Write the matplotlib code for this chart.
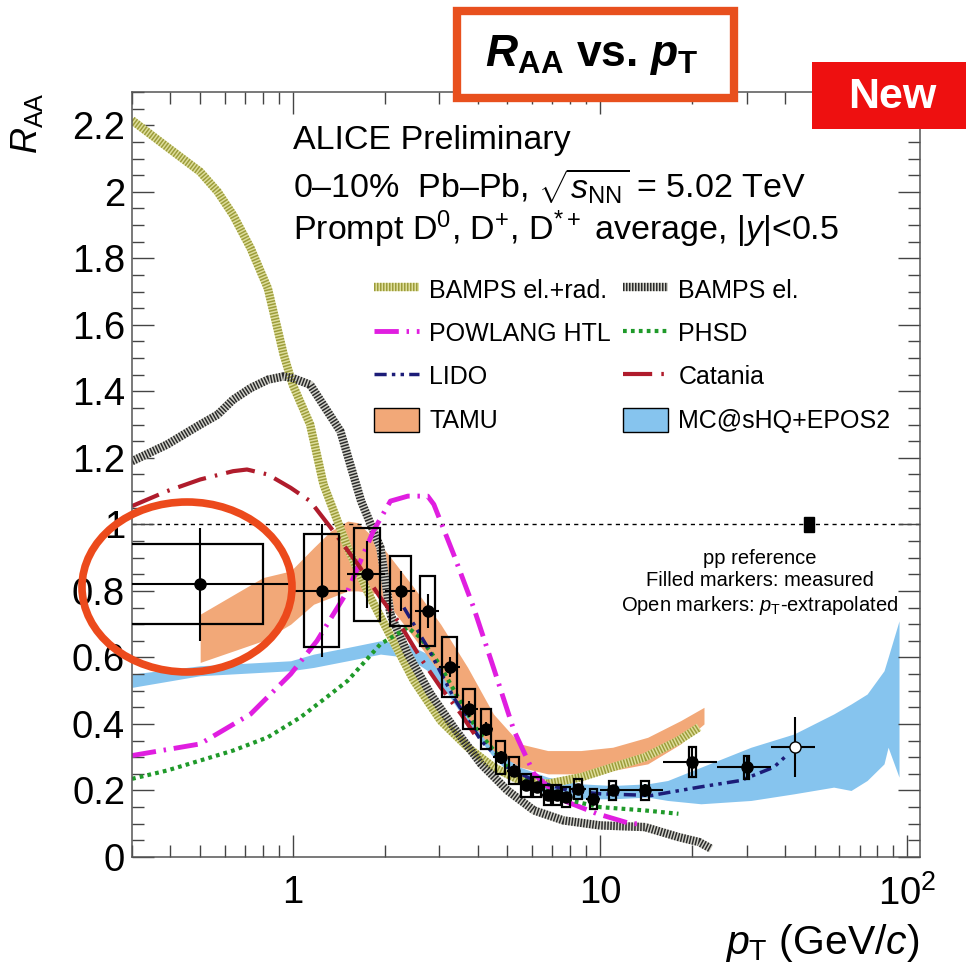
import numpy as np
import matplotlib
matplotlib.use('Agg')
import matplotlib.pyplot as plt
from matplotlib.patches import Rectangle, Ellipse, Patch
from matplotlib.lines import Line2D
import matplotlib.ticker as mticker

plt.rcParams['font.family'] = ['Liberation Sans', 'DejaVu Sans']
plt.rcParams['mathtext.fontset'] = 'custom'
plt.rcParams['mathtext.rm'] = 'Liberation Sans'
plt.rcParams['mathtext.it'] = 'Liberation Sans:italic'
plt.rcParams['mathtext.bf'] = 'Liberation Sans:bold'
plt.rcParams['mathtext.bfit'] = 'Liberation Sans:bold:italic'
plt.rcParams['mathtext.sf'] = 'Liberation Sans'

# ---------------- data ----------------
pt_lo = [0, 1, 1.5, 2, 2.5, 3, 3.5, 4, 4.5, 5, 5.5, 6, 6.5, 7, 7.5, 8, 9, 10, 12, 16, 24]
pt_hi = [1, 1.5, 2, 2.5, 3, 3.5, 4, 4.5, 5, 5.5, 6, 6.5, 7, 7.5, 8, 9, 10, 12, 16, 24, 36]
pt_c = [0.5, 1.25, 1.75, 2.25, 2.75, 3.25, 3.75, 4.25, 4.75, 5.25, 5.75, 6.25, 6.75, 7.25, 7.75, 8.5, 9.5, 11, 14, 20, 30]
raa = [0.82, 0.80, 0.85, 0.80, 0.74, 0.57, 0.445, 0.385, 0.30, 0.26, 0.215, 0.21, 0.185, 0.185, 0.18, 0.205, 0.175, 0.20, 0.20, 0.285, 0.27]
raa_stat = [0.17, 0.20, 0.10, 0.06, 0.05, 0.03, 0.025, 0.02, 0.02, 0.02, 0.015, 0.015, 0.015, 0.015, 0.015, 0.015, 0.015, 0.015, 0.02, 0.045, 0.035]
raa_syst = [0.12, 0.17, 0.14, 0.105, 0.105, 0.09, 0.06, 0.06, 0.05, 0.04, 0.035, 0.03, 0.03, 0.03, 0.03, 0.03, 0.03, 0.03, 0.03, 0.045, 0.035]
syst_hw = [0.3, 0.16, 0.17, 0.17, 0.16, 0.18, 0.16, 0.16, 0.16, 0.2, 0.2, 0.2, 0.2, 0.22, 0.22, 0.25, 0.25, 0.3, 0.4, 0.5, 0.6]

# extrapolated pp reference point (open marker)
ext_pt, ext_lo, ext_hi = [43], [36], [50]
ext_raa, ext_stat = [0.33], [0.09]

# pp normalisation uncertainty box
norm_pt, norm_hw, norm_unc = 48.0, 1.8, 0.022

# models
bamps_rad_x = [0.3, 0.39, 0.5, 0.57, 0.64, 0.73, 0.83, 0.935, 1.0, 1.14, 1.26, 1.51, 1.79, 2.04, 2.48, 3.03, 3.71, 4.5, 5.5, 6.76, 8.7, 11, 14, 18, 21]
bamps_rad_y = [2.215, 2.135, 2.06, 2.0, 1.93, 1.83, 1.71, 1.51, 1.42, 1.30, 1.12, 0.93, 0.78, 0.68, 0.53, 0.41, 0.33, 0.27, 0.23, 0.22, 0.24, 0.27, 0.30, 0.35, 0.39]

bamps_el_x = [0.3, 0.39, 0.5, 0.57, 0.64, 0.73, 0.83, 0.935, 1.0, 1.14, 1.43, 1.67, 1.93, 2.08, 2.37, 2.81, 3.34, 4.1, 5.0, 6.1, 7.6, 10, 14, 18, 21, 23]
bamps_el_y = [1.19, 1.24, 1.30, 1.33, 1.375, 1.41, 1.435, 1.445, 1.44, 1.42, 1.28, 1.07, 0.93, 0.73, 0.61, 0.49, 0.39, 0.28, 0.20, 0.14, 0.11, 0.095, 0.09, 0.06, 0.045, 0.025]

powlang_x = [0.3, 0.5, 0.73, 0.985, 1.2, 1.51, 1.83, 2.08, 2.37, 2.75, 2.88, 3.34, 3.88, 4.5, 5.25, 6.1, 7.6, 9.8, 12.6, 13.5]
powlang_y = [0.305, 0.34, 0.43, 0.55, 0.65, 0.80, 0.98, 1.07, 1.085, 1.085, 1.06, 0.91, 0.75, 0.57, 0.38, 0.25, 0.17, 0.13, 0.10, 0.10]

phsd_x = [0.3, 0.39, 0.5, 0.64, 0.83, 1.06, 1.33, 1.51, 1.93, 2.37, 2.6, 3.0, 3.5, 4.0, 5.0, 6.0, 7.0, 8.0, 10, 14, 18]
phsd_y = [0.235, 0.26, 0.29, 0.32, 0.36, 0.42, 0.49, 0.53, 0.64, 0.69, 0.66, 0.58, 0.47, 0.38, 0.27, 0.22, 0.19, 0.17, 0.15, 0.14, 0.13]

lido_x = [2.3, 2.75, 3.34, 4.1, 5.0, 6.1, 7.9, 10, 14.7, 21, 28.7, 36.8, 41]
lido_y = [0.75, 0.63, 0.48, 0.35, 0.27, 0.23, 0.20, 0.19, 0.185, 0.21, 0.23, 0.27, 0.31]

catania_x = [0.3, 0.39, 0.5, 0.64, 0.71, 0.83, 0.985, 1.14, 1.33, 1.63, 1.93, 2.2, 2.6, 3.03, 3.53, 3.9]
catania_y = [1.055, 1.10, 1.135, 1.16, 1.165, 1.15, 1.11, 1.07, 0.99, 0.88, 0.78, 0.71, 0.60, 0.51, 0.43, 0.37]

tamu_x = [0.5, 0.8, 0.985, 1.17, 1.33, 1.51, 1.63, 1.93, 2.48, 3.03, 3.71, 4.5, 5.5, 6.76, 8.66, 11, 14.3, 18.3, 21.8]
tamu_hi = [0.73, 0.84, 0.86, 0.93, 0.98, 1.01, 1.005, 0.94, 0.81, 0.70, 0.57, 0.43, 0.34, 0.32, 0.32, 0.33, 0.36, 0.41, 0.45]
tamu_lo = [0.585, 0.65, 0.70, 0.76, 0.78, 0.80, 0.80, 0.79, 0.66, 0.55, 0.42, 0.32, 0.27, 0.25, 0.25, 0.26, 0.28, 0.34, 0.40]

mc_x = [0.3, 0.5, 0.985, 1.17, 1.51, 1.93, 2.37, 2.75, 3.2, 3.71, 4.5, 5.5, 6.76, 8.66, 11, 14.3, 16.6, 21.3, 31, 42.8, 57.6, 65.6, 74, 84, 86.6, 94]
mc_hi = [0.55, 0.575, 0.59, 0.61, 0.63, 0.65, 0.64, 0.61, 0.55, 0.45, 0.34, 0.27, 0.24, 0.22, 0.215, 0.22, 0.23, 0.27, 0.33, 0.37, 0.43, 0.46, 0.49, 0.56, 0.60, 0.71]
mc_lo = [0.51, 0.545, 0.56, 0.57, 0.59, 0.61, 0.60, 0.56, 0.49, 0.40, 0.30, 0.22, 0.19, 0.175, 0.175, 0.18, 0.17, 0.16, 0.17, 0.19, 0.21, 0.20, 0.23, 0.28, 0.33, 0.24]

# ---------------- figure ----------------
W, H = 966, 969
fig = plt.figure(figsize=(W / 100, H / 100), dpi=100)
ax = fig.add_axes([132 / W, 1 - 857 / H, (920 - 132) / W, (857 - 92) / H])
ax.set_xscale('log')
ax.set_xlim(0.3, 110)
ax.set_ylim(0, 2.3)

# bands
tamu_col = '#f2a878'
mc_col = '#86c4ee'
ax.fill_between(mc_x, mc_lo, mc_hi, color=mc_col, lw=0, zorder=1)
ax.fill_between(tamu_x, tamu_lo, tamu_hi, color=tamu_col, lw=0, zorder=1.1)

# hatched BAMPS lines
ax.plot(bamps_rad_x, bamps_rad_y, color='#dede9c', lw=6, solid_capstyle='butt', zorder=2)
ax.plot(bamps_rad_x, bamps_rad_y, color='#9c9c3a', lw=6, dashes=(0.18, 0.18), dash_capstyle='butt', zorder=2.01)
ax.plot(bamps_el_x, bamps_el_y, color='#d0d0c8', lw=6, solid_capstyle='butt', zorder=2)
ax.plot(bamps_el_x, bamps_el_y, color='#2a2a2a', lw=6, dashes=(0.18, 0.18), dash_capstyle='butt', zorder=2.01)

ax.plot(powlang_x, powlang_y, color='#e01ee0', lw=3.5, dashes=(5, 1.6, 0.5, 1.6), zorder=2.1)
ax.plot(phsd_x, phsd_y, color='#1f9a2a', lw=3, dashes=(0.9, 1.0), zorder=2.1)
ax.plot(lido_x, lido_y, color='#1c1c78', lw=2.5, dashes=(3.5, 1.5, 1, 1.5, 1, 1.5), zorder=2.1)
ax.plot(catania_x, catania_y, color='#b01c2c', lw=3, dashes=(7, 2.2, 0.6, 2.2), zorder=2.1)

# reference line at 1
ax.axhline(1.0, color='black', lw=1, dashes=(3, 3), zorder=1.5)
ax.add_patch(Rectangle((norm_pt - norm_hw, 1 - norm_unc), 2 * norm_hw, 2 * norm_unc,
                       facecolor='black', edgecolor='black', zorder=3))

# data
for x, y, s, hw in zip(pt_c, raa, raa_syst, syst_hw):
    ax.add_patch(Rectangle((x - hw, y - s), 2 * hw, 2 * s, fill=False,
                           edgecolor='black', lw=1.6, zorder=3))
xerr = [np.array(pt_c) - np.array(pt_lo), np.array(pt_hi) - np.array(pt_c)]
ax.errorbar(pt_c, raa, yerr=raa_stat, xerr=xerr, fmt='o', color='black', ms=8,
            elinewidth=1.5, capsize=0, zorder=4)
ax.errorbar(ext_pt, ext_raa, yerr=ext_stat,
            xerr=[np.array(ext_pt) - np.array(ext_lo), np.array(ext_hi) - np.array(ext_pt)],
            fmt='o', color='black', mfc='white', mec='black', ms=8, elinewidth=1.5,
            capsize=0, zorder=4)

# axes styling
ax.set_xticks([1, 10, 100])
ax.set_xticklabels(['1', '10', r'$10^{2}$'])
ax.xaxis.set_minor_locator(mticker.LogLocator(base=10, subs=np.arange(2, 10)))
ax.xaxis.set_minor_formatter(mticker.NullFormatter())
ax.yaxis.set_major_locator(mticker.MultipleLocator(0.2))
ax.yaxis.set_minor_locator(mticker.MultipleLocator(0.05))
ax.yaxis.set_major_formatter(mticker.FuncFormatter(lambda v, p: '%g' % round(v, 2)))
ax.tick_params(which='both', direction='in', top=True, right=True, color='#444444', width=1.0)
ax.tick_params(which='major', length=16, labelsize=27.5)
ax.tick_params(which='minor', length=8.5)
ax.tick_params(axis='x', which='major', pad=13)
ax.tick_params(axis='y', which='major', pad=5)
for s in ax.spines.values():
    s.set_color('#555555')
    s.set_linewidth(1.1)

ax.set_ylabel(r'$R_{\rm AA}$', fontsize=26, loc='top')
ax.yaxis.set_label_coords(-0.11, 1.0)
fig.text(920 / W, 1 - 943 / H, r'$p_{\rm T}$ (GeV/$c$)', fontsize=29.5, ha='right', va='center')

# texts
fig.text(293 / W, 1 - 141 / H, 'ALICE Preliminary', fontsize=24.5, va='center')
fig.text(293 / W, 1 - 187 / H, r'0–10%  Pb–Pb, $\sqrt{s_{\rm NN}}$ = 5.02 TeV', fontsize=24.5, va='center')
fig.text(293 / W, 1 - 229 / H, r'Prompt D$^{0}$, D$^{+}$, D$^{*+}$ average, |$y$|<0.5', fontsize=24.5, va='center')
fig.text(760 / W, 1 - 583 / H, 'pp reference\nFilled markers: measured\nOpen markers: $p_{\\rm T}$-extrapolated',
         fontsize=14.5, ha='center', va='center', multialignment='center', linespacing=1.2)

# legend
h_rad = (Line2D([], [], color='#dede9c', lw=6, solid_capstyle='butt'),
         Line2D([], [], color='#9c9c3a', lw=6, dashes=(0.18, 0.18), dash_capstyle='butt'))
h_el = (Line2D([], [], color='#d0d0c8', lw=6, solid_capstyle='butt'),
        Line2D([], [], color='#2a2a2a', lw=6, dashes=(0.18, 0.18), dash_capstyle='butt'))
h_pow = Line2D([], [], color='#e01ee0', lw=3.5, dashes=(5, 1.6, 0.5, 1.6))
h_phsd = Line2D([], [], color='#1f9a2a', lw=3, dashes=(0.9, 1.0))
h_lido = Line2D([], [], color='#1c1c78', lw=2.5, dashes=(3.5, 1.5, 1, 1.5, 1, 1.5))
h_cat = Line2D([], [], color='#b01c2c', lw=3, dashes=(7, 2.2, 0.6, 2.2))
h_tamu = Patch(facecolor=tamu_col, edgecolor='black', lw=1)
h_mc = Patch(facecolor=mc_col, edgecolor='black', lw=1)
handles = [h_rad, h_pow, h_lido, h_tamu, h_el, h_phsd, h_cat, h_mc]
labels = ['BAMPS el.+rad.', 'POWLANG HTL', 'LIDO', 'TAMU', 'BAMPS el.', 'PHSD', 'Catania', 'MC@sHQ+EPOS2']
leg = fig.legend(handles, labels, ncol=2, loc='upper left', bbox_to_anchor=(374 / W, 1 - 277 / H),
                 frameon=False, fontsize=18, handlelength=1.8, handleheight=1.1, handletextpad=0.4,
                 columnspacing=0.5, labelspacing=0.72, borderpad=0, borderaxespad=0)

# annotations: title box, "New" tag, ellipse
fig.add_artist(Rectangle((457 / W, 1 - 98 / H), (734 - 457) / W, (98 - 11) / H,
                         transform=fig.transFigure, facecolor='white', edgecolor='#e8501e', lw=6, zorder=5))
fig.text(592 / W, 1 - 55 / H, r'$\mathbfit{R}_{\mathbf{AA}}$ vs. $\mathbfit{p}_{\mathbf{T}}$',
         fontsize=32, fontweight='bold', ha='center', va='center', zorder=6)
fig.add_artist(Rectangle((812 / W, 1 - 129 / H), (W - 812) / W, (129 - 62) / H,
                         transform=fig.transFigure, facecolor='#ee1010', edgecolor='none', zorder=5))
fig.text(892 / W, 1 - 97 / H, 'New', fontsize=31, fontweight='bold', color='white',
         ha='center', va='center', zorder=6)
fig.add_artist(Ellipse((187 / W, 1 - 587 / H), 210 / W, 170 / H, transform=fig.transFigure,
                       fill=False, edgecolor='#ec4a1c', lw=5.5, zorder=5))

fig.savefig('out.png', dpi=100)
